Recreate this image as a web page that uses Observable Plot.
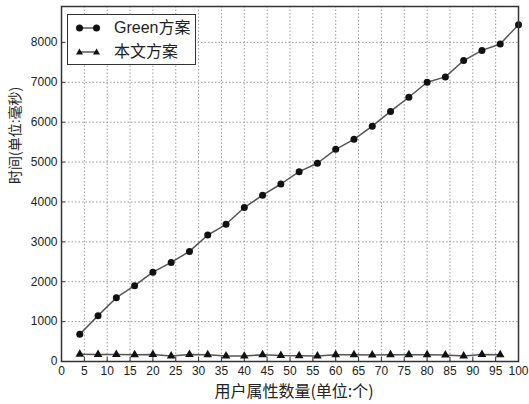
<!DOCTYPE html>
<html>
<head>
<meta charset="utf-8">
<script src="https://cdn.jsdelivr.net/npm/d3@7"></script>
<script src="https://cdn.jsdelivr.net/npm/@observablehq/plot@0.6"></script>
<style>
  html, body { margin: 0; padding: 0; background: #fff; }
  #wrap { position: relative; width: 529px; height: 404px; }
  #legend {
    position: absolute; left: 67px; top: 14px; width: 129px; height: 51px;
    border: 1.5px solid #333; background: #fff; box-sizing: border-box;
    font-family: "Liberation Sans", "Noto Sans CJK SC", sans-serif; font-size: 16px; color: #222;
  }
  .row { position: absolute; left: 0; height: 20px; display: flex; align-items: center; }
  .row svg { margin-left: 8px; }
  .row span { margin-left: 14px; line-height: 20px; }
</style>
</head>
<body>
<div id="wrap"></div>
<script>
const seriesNames = ["Green方案", "本文方案"];
const greenX = [4, 8, 12, 16, 20, 24, 28, 32, 36, 40, 44, 48, 52, 56, 60, 64, 68, 72, 76, 80, 84, 88, 92, 96, 100];
const greenY = [685, 1150, 1600, 1900, 2240, 2485, 2760, 3170, 3440, 3860, 4170, 4450, 4760, 4970, 5320, 5570, 5900, 6270, 6625, 7000, 7135, 7545, 7800, 7960, 8445];
const oursX = [4, 8, 12, 16, 20, 24, 28, 32, 36, 40, 44, 48, 52, 56, 60, 64, 68, 72, 76, 80, 84, 88, 92, 96];
const oursY = [180, 175, 175, 170, 175, 140, 175, 170, 140, 135, 170, 150, 145, 140, 170, 170, 165, 170, 170, 170, 165, 140, 175, 170];
const xTicks = [0, 5, 10, 15, 20, 25, 30, 35, 40, 45, 50, 55, 60, 65, 70, 75, 80, 85, 90, 95, 100];
const yTicks = [0, 1000, 2000, 3000, 4000, 5000, 6000, 7000, 8000];
const xLabel = "用户属性数量(单位:个)";
const yLabel = "时间(单位:毫秒)";

const green = greenX.map((x, i) => ({x, y: greenY[i]}));
const ours = oursX.map((x, i) => ({x, y: oursY[i]}));

const chart = Plot.plot({
  width: 529,
  height: 404,
  marginLeft: 61,
  marginRight: 11,
  marginTop: 6,
  marginBottom: 43,
  style: {fontFamily: "Liberation Sans, sans-serif", fontSize: "12px", color: "#222", background: "#fff"},
  x: {domain: [0, 100]},
  y: {domain: [0, 8900]},
  marks: [
    Plot.gridX(xTicks, {stroke: "#999", strokeOpacity: 1, strokeDasharray: "1.5,2"}),
    Plot.gridY(yTicks, {stroke: "#999", strokeOpacity: 1, strokeDasharray: "1.5,2"}),
    Plot.axisX(xTicks, {tickSize: 0, tickPadding: 5, label: null, fontSize: 12, tickFormat: d3.format("d")}),
    Plot.axisY(yTicks, {tickSize: 0, tickPadding: 4, label: null, fontSize: 12, tickFormat: d3.format("d")}),
    Plot.axisX(xTicks, {tickSize: -4, text: null, label: null, stroke: "#333"}),
    Plot.axisY(yTicks, {tickSize: -4, text: null, label: null, stroke: "#333"}),
    Plot.line(green, {x: "x", y: "y", stroke: "#555", strokeWidth: 1.5}),
    Plot.dot(green, {x: "x", y: "y", r: 3.5, fill: "#111", stroke: "none"}),
    Plot.line(ours, {x: "x", y: "y", stroke: "#555", strokeWidth: 1.5}),
    Plot.dot(ours, {x: "x", y: "y", r: 3.2, symbol: "triangle", fill: "#111", stroke: "none"}),
    Plot.frame({stroke: "#333", strokeWidth: 1.5}),
    Plot.text([yLabel], {frameAnchor: "left", dx: -46, rotate: -90, fontSize: 14, fill: "#222", fontFamily: "Noto Sans CJK SC"}),
    Plot.text([xLabel], {frameAnchor: "bottom", dx: 4, dy: 30, lineAnchor: "middle", fontSize: 16, fill: "#222", fontFamily: "Noto Sans CJK SC"})
  ]
});

const wrap = document.getElementById("wrap");
wrap.appendChild(chart);

const legend = document.createElement("div");
legend.id = "legend";
const symbols = ["circle", "triangle"];
seriesNames.forEach((name, i) => {
  const row = document.createElement("div");
  row.className = "row";
  row.style.top = (i === 0 ? 3 : 27) + "px";
  const markerSvg = symbols[i] === "circle"
    ? '<circle cx="3.5" cy="10" r="3.5" fill="#111"/><circle cx="20.5" cy="10" r="3.5" fill="#111"/>'
    : '<path d="M3.5,6.5L7,12.5L0,12.5Z" fill="#111"/><path d="M20.5,6.5L24,12.5L17,12.5Z" fill="#111"/>';
  row.innerHTML = '<svg width="24" height="20"><line x1="3.5" y1="10" x2="20.5" y2="10" stroke="#555" stroke-width="1.5"/>' + markerSvg + '</svg><span>' + name + '</span>';
  legend.appendChild(row);
});
wrap.appendChild(legend);
</script>
</body>
</html>
